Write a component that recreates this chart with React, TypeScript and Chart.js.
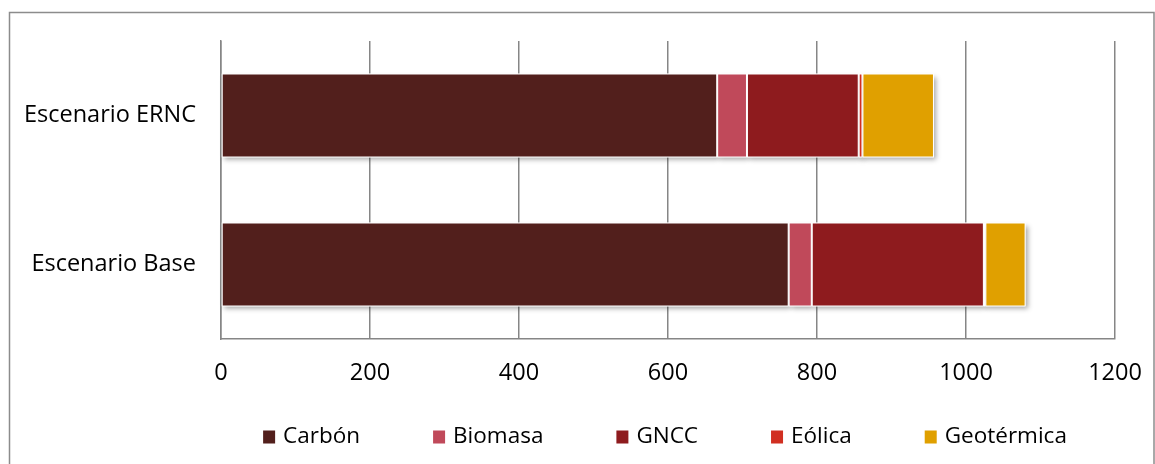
import React, { useEffect, useRef } from 'react';
import { Chart, registerables } from 'chart.js';

Chart.register(...registerables);

const categories = ['Escenario ERNC', 'Escenario Base'];
const seriesNames = ['Carbón', 'Biomasa', 'GNCC', 'Eólica', 'Geotérmica'];
const carbon = [666, 762];
const biomasa = [40, 31];
const gncc = [150, 231];
const eolica = [5, 2];
const geotermica = [96, 54];
const xMin = 0;
const xMax = 1200;
const xStep = 200;

const seriesValues = [carbon, biomasa, gncc, eolica, geotermica];
const seriesColors = ['#521f1c', '#c0495a', '#8e1b1e', '#d12f21', '#e0a000'];

const FONT = '"Open Sans", "DejaVu Sans", sans-serif';
const FONT_SIZE = 23.5;
const LEGEND_FONT_SIZE = 22.5;

const shadowPlugin = {
  id: 'barShadow',
  beforeDatasetsDraw(chart: any) {
    const ctx = chart.ctx;
    ctx.save();
    ctx.shadowColor = 'rgba(0,0,0,0.35)';
    ctx.shadowBlur = 5;
    ctx.shadowOffsetX = 2;
    ctx.shadowOffsetY = 3;
    ctx.fillStyle = '#ffffff';
    chart.data.datasets.forEach((_ds: any, i: number) => {
      const meta = chart.getDatasetMeta(i);
      meta.data.forEach((bar: any) => {
        const p = bar.getProps(['x', 'y', 'base', 'height'], true);
        const left = Math.min(p.x, p.base);
        const w = Math.abs(p.x - p.base);
        ctx.fillRect(left, p.y - p.height / 2, w, p.height);
      });
    });
    ctx.restore();
  },
};

const frameAndLegendPlugin = {
  id: 'frameAndLegend',
  afterDraw(chart: any) {
    const ctx = chart.ctx;
    ctx.save();
    // outer frame
    ctx.strokeStyle = '#8c8c8c';
    ctx.lineWidth = 1.5;
    ctx.strokeRect(9.5, 12.5, chart.width - 10.5, chart.height + 10);

    // legend
    ctx.font = `${LEGEND_FONT_SIZE}px ${FONT}`;
    const box = 12;
    const gapText = 8;
    const gapItem = 73;
    const items = chart.data.datasets.map((ds: any) => ({
      label: ds.label as string,
      color: ds.backgroundColor as string,
      w: box + gapText + ctx.measureText(ds.label).width,
    }));
    const total = items.reduce((s: number, it: any) => s + it.w, 0) + gapItem * (items.length - 1);
    const ca = chart.chartArea;
    let x = (ca.left + ca.right) / 2 - 3 - total / 2;
    const cy = chart.height - 27;
    ctx.textBaseline = 'middle';
    ctx.textAlign = 'left';
    items.forEach((it: any) => {
      ctx.fillStyle = it.color;
      ctx.fillRect(x, cy - 6.5, box, 13);
      ctx.fillStyle = '#000000';
      ctx.fillText(it.label, x + box + gapText, cy);
      x += it.w + gapItem;
    });
    ctx.restore();
  },
};

export default function App() {
  const canvasRef = useRef<HTMLCanvasElement | null>(null);

  useEffect(() => {
    if (!canvasRef.current) return;
    const chart = new Chart(canvasRef.current, {
      type: 'bar',
      data: {
        labels: categories,
        datasets: seriesNames.map((name, i) => ({
          label: name,
          data: seriesValues[i],
          backgroundColor: seriesColors[i],
          borderColor: '#ffffff',
          borderWidth: 1,
          borderSkipped: false,
          barPercentage: 1,
          categoryPercentage: 0.563,
        })),
      },
      options: {
        indexAxis: 'y',
        animation: false,
        responsive: false,
        maintainAspectRatio: false,
        events: [],
        layout: { padding: { top: 41, left: 0, right: 40, bottom: 65 } },
        plugins: {
          legend: { display: false },
          tooltip: { enabled: false },
          title: { display: false },
        },
        scales: {
          x: {
            stacked: true,
            min: xMin,
            max: xMax,
            ticks: {
              stepSize: xStep,
              color: '#000000',
              padding: 20,
              font: { family: FONT, size: FONT_SIZE },
              maxRotation: 0,
              callback: (v: any) => String(v),
            },
            grid: {
              color: '#868686',
              lineWidth: 1.5,
              drawTicks: false,
            },
            border: { display: true, color: '#868686', width: 1.5 },
            afterFit: (scale: any) => {
              scale.height = 60;
              scale.paddingLeft = 0;
              scale.paddingRight = 0;
            },
          },
          y: {
            stacked: true,
            ticks: {
              color: '#000000',
              padding: 25,
              font: { family: FONT, size: FONT_SIZE },
            },
            grid: { display: false, drawTicks: false },
            border: { display: true, color: '#868686', width: 1.5 },
            afterFit: (scale: any) => {
              scale.width = 221;
              scale.paddingTop = 0;
              scale.paddingBottom = 0;
            },
          },
        },
      },
      plugins: [shadowPlugin, frameAndLegendPlugin],
    } as any);
    return () => chart.destroy();
  }, []);

  return (
    <div style={{ position: 'fixed', left: 0, top: 0, width: 1155, height: 464, background: '#ffffff' }}>
      <canvas ref={canvasRef} width={1155} height={464} style={{ display: 'block', width: 1155, height: 464 }} />
    </div>
  );
}
